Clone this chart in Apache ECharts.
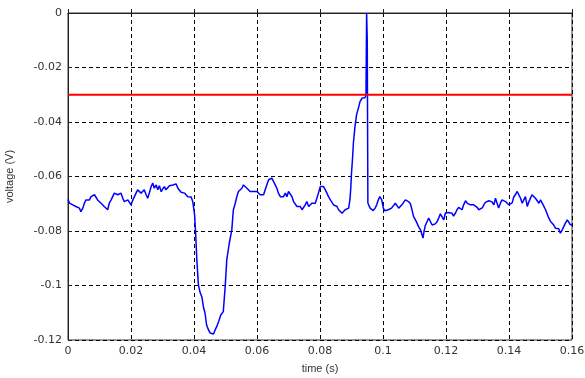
<!DOCTYPE html>
<html>
<head>
<meta charset="utf-8">
<script src="https://cdn.jsdelivr.net/npm/echarts@6/dist/echarts.min.js"></script>
<style>
  html, body { margin: 0; padding: 0; background: #fff; }
  #chart { width: 585px; height: 378px; }
</style>
</head>
<body>
<div id="chart"></div>
<script>
// Sample times (s) of the recorded trace
const timeS = [
  0.0000, 0.0005, 0.0010, 0.0015, 0.0020, 0.0025, 0.0031, 0.0036, 0.0041, 0.0047,
  0.0052, 0.0057, 0.0063, 0.0068, 0.0073, 0.0078, 0.0084, 0.0089, 0.0094, 0.0099,
  0.0105, 0.0110, 0.0115, 0.0121, 0.0126, 0.0131, 0.0137, 0.0142, 0.0147, 0.0153,
  0.0158, 0.0163, 0.0168, 0.0174, 0.0179, 0.0184, 0.0190, 0.0195, 0.0200, 0.0206,
  0.0211, 0.0216, 0.0221, 0.0227, 0.0232, 0.0237, 0.0242, 0.0248, 0.0253, 0.0258,
  0.0264, 0.0269, 0.0274, 0.0280, 0.0285, 0.0290, 0.0296, 0.0301, 0.0306, 0.0311,
  0.0317, 0.0322, 0.0327, 0.0333, 0.0338, 0.0343, 0.0349, 0.0354, 0.0359, 0.0364,
  0.0370, 0.0375, 0.0380, 0.0385, 0.0391, 0.0396,
  // dip
  0.0402, 0.0405, 0.0409, 0.0414, 0.0419, 0.0425, 0.0430, 0.0435, 0.0440, 0.0446,
  0.0451, 0.0456, 0.0462, 0.0467, 0.0472, 0.0478, 0.0485, 0.0493, 0.0499, 0.0504,
  0.0512, 0.0520, 0.0525, 0.0531, 0.0536, 0.0541, 0.0547,
  // recovery
  0.0552, 0.0557, 0.0562, 0.0568, 0.0573, 0.0578, 0.0584, 0.0589, 0.0594, 0.0600,
  0.0605, 0.0610, 0.0616, 0.0621, 0.0626, 0.0631, 0.0637, 0.0642, 0.0647, 0.0652,
  0.0658, 0.0663, 0.0668, 0.0674, 0.0679, 0.0684, 0.0690, 0.0695, 0.0700, 0.0705,
  0.0711, 0.0716, 0.0721, 0.0727, 0.0732, 0.0737, 0.0743, 0.0748, 0.0753, 0.0758,
  0.0764, 0.0769, 0.0774, 0.0779, 0.0785, 0.0790, 0.0795, 0.0801, 0.0806,
  // rise and spike
  0.0811, 0.0817, 0.0822, 0.0827, 0.0833, 0.0838, 0.0843, 0.0848, 0.0854, 0.0859,
  0.0864, 0.0870, 0.0875, 0.0880, 0.0886, 0.0891, 0.0895, 0.0898, 0.0900, 0.0903,
  0.0906, 0.0909, 0.0911, 0.0914, 0.0916, 0.0919, 0.0922, 0.0925, 0.0927, 0.0930,
  0.0934, 0.0943, 0.0946, 0.0948, 0.0950, 0.0951, 0.0952, 0.0959, 0.0964, 0.0969,
  0.0975, 0.0980, 0.0985, 0.0990, 0.0994, 0.0996, 0.1001, 0.1006, 0.1011, 0.1017,
  0.1022, 0.1027, 0.1033, 0.1039, 0.1044, 0.1050, 0.1055,
  // tail
  0.1060, 0.1066, 0.1071, 0.1076, 0.1081, 0.1087, 0.1092, 0.1097, 0.1103, 0.1108,
  0.1113, 0.1119, 0.1124, 0.1127, 0.1130, 0.1134, 0.1140, 0.1145, 0.1150, 0.1156,
  0.1161, 0.1166, 0.1172, 0.1177, 0.1182, 0.1187, 0.1193, 0.1198, 0.1203, 0.1208,
  0.1214, 0.1219, 0.1224, 0.1230, 0.1235, 0.1240, 0.1246, 0.1251, 0.1256, 0.1262,
  0.1267, 0.1272, 0.1277, 0.1283, 0.1288, 0.1293, 0.1299, 0.1304, 0.1309, 0.1315,
  0.1320, 0.1325, 0.1330, 0.1336, 0.1341, 0.1346, 0.1352, 0.1357, 0.1362, 0.1367,
  0.1373, 0.1378, 0.1383, 0.1389, 0.1394, 0.1399, 0.1405, 0.1410, 0.1415, 0.1420,
  0.1426, 0.1431, 0.1436, 0.1442, 0.1447, 0.1452, 0.1458, 0.1463, 0.1468, 0.1473,
  0.1479, 0.1484, 0.1489, 0.1495, 0.1500, 0.1505, 0.1510, 0.1516, 0.1521, 0.1526,
  0.1532, 0.1537, 0.1542, 0.1548, 0.1553, 0.1558, 0.1563, 0.1569, 0.1574, 0.1579,
  0.1585, 0.1590, 0.1595, 0.1600
];

// Measured voltage (V) at each sample time
const voltageV = [
  -0.0684, -0.0698, -0.0692, -0.0704, -0.0698, -0.0710, -0.0704, -0.0716, -0.0729, -0.0716,
  -0.0698, -0.0686, -0.0680, -0.0686, -0.0674, -0.0667, -0.0667, -0.0674, -0.0686, -0.0692,
  -0.0698, -0.0704, -0.0710, -0.0716, -0.0722, -0.0698, -0.0686, -0.0680, -0.0661, -0.0655,
  -0.0667, -0.0674, -0.0661, -0.0680, -0.0692, -0.0698, -0.0686, -0.0686, -0.0704, -0.0686,
  -0.0680, -0.0661, -0.0649, -0.0643, -0.0661, -0.0655, -0.0649, -0.0667, -0.0680, -0.0661,
  -0.0637, -0.0624, -0.0643, -0.0631, -0.0649, -0.0634, -0.0656, -0.0645, -0.0637, -0.0649,
  -0.0643, -0.0634, -0.0640, -0.0631, -0.0624, -0.0627, -0.0643, -0.0649, -0.0658, -0.0655,
  -0.0661, -0.0667, -0.0674, -0.0680, -0.0675, -0.0692,
  -0.0741, -0.0803, -0.0906, -0.0998, -0.1024, -0.1042, -0.1079, -0.1101, -0.1145, -0.1163,
  -0.1174, -0.1170, -0.1178, -0.1163, -0.1151, -0.1133, -0.1108, -0.1096, -0.1004, -0.0906,
  -0.0845, -0.0796, -0.0722, -0.0698, -0.0674, -0.0655, -0.0649,
  -0.0643, -0.0631, -0.0631, -0.0643, -0.0643, -0.0655, -0.0655, -0.0655, -0.0649, -0.0655,
  -0.0661, -0.0667, -0.0661, -0.0667, -0.0649, -0.0631, -0.0612, -0.0606, -0.0606, -0.0612,
  -0.0631, -0.0643, -0.0661, -0.0674, -0.0667, -0.0674, -0.0661, -0.0674, -0.0655, -0.0661,
  -0.0674, -0.0692, -0.0698, -0.0710, -0.0716, -0.0710, -0.0722, -0.0729, -0.0704, -0.0692,
  -0.0710, -0.0704, -0.0698, -0.0692, -0.0698, -0.0680, -0.0661, -0.0637, -0.0631,
  -0.0637, -0.0649, -0.0661, -0.0674, -0.0686, -0.0692, -0.0704, -0.0698, -0.0710, -0.0722,
  -0.0729, -0.0735, -0.0729, -0.0722, -0.0722, -0.0716, -0.0686, -0.0637, -0.0588, -0.0539,
  -0.0478, -0.0441, -0.0417, -0.0392, -0.0374, -0.0361, -0.0349, -0.0343, -0.0325, -0.0318,
  -0.0312, -0.0311, -0.0300, 0.0000, -0.0098, -0.0100, -0.0697, -0.0716, -0.0722, -0.0725,
  -0.0716, -0.0704, -0.0686, -0.0674, -0.0667, -0.0686, -0.0716, -0.0726, -0.0729, -0.0722,
  -0.0719, -0.0716, -0.0710, -0.0698, -0.0704, -0.0716, -0.0722,
  -0.0704, -0.0698, -0.0686, -0.0692, -0.0692, -0.0700, -0.0722, -0.0747, -0.0759, -0.0771,
  -0.0784, -0.0796, -0.0802, -0.0826, -0.0803, -0.0781, -0.0765, -0.0753, -0.0756, -0.0778,
  -0.0785, -0.0774, -0.0765, -0.0752, -0.0737, -0.0735, -0.0759, -0.0734, -0.0737, -0.0732,
  -0.0737, -0.0735, -0.0745, -0.0734, -0.0722, -0.0713, -0.0719, -0.0722, -0.0704, -0.0689,
  -0.0698, -0.0695, -0.0704, -0.0698, -0.0704, -0.0710, -0.0713, -0.0722, -0.0726, -0.0715,
  -0.0704, -0.0695, -0.0698, -0.0689, -0.0686, -0.0693, -0.0704, -0.0680, -0.0697, -0.0716,
  -0.0697, -0.0686, -0.0692, -0.0692, -0.0698, -0.0704, -0.0711, -0.0697, -0.0675, -0.0667,
  -0.0655, -0.0658, -0.0678, -0.0698, -0.0686, -0.0674, -0.0710, -0.0693, -0.0686, -0.0667,
  -0.0667, -0.0680, -0.0686, -0.0698, -0.0686, -0.0697, -0.0708, -0.0722, -0.0737, -0.0752,
  -0.0765, -0.0765, -0.0778, -0.0790, -0.0796, -0.0792, -0.0808, -0.0796, -0.0790, -0.0771,
  -0.0759, -0.0766, -0.0777, -0.0777
];

// Trigger threshold (V)
const thresholdV = -0.03;
const thresholdSpan = [0, 0.16];

// Axis ranges and tick spacing
const xRange = [0, 0.16];
const xStep = 0.02;
const yRange = [-0.12, 0];
const yStep = 0.02;

const trace = timeS.map((t, i) => [t, voltageV[i]]);
const thresholdLine = thresholdSpan.map(t => [t, thresholdV]);

const chart = echarts.init(document.getElementById('chart'), null, { renderer: 'canvas' });

const labelStyle = { color: '#333', fontSize: 11, fontFamily: 'DejaVu Sans, Arial, sans-serif' };
const nameStyle = { color: '#333', fontSize: 11, fontFamily: 'Liberation Sans, Arial, sans-serif' };
const gridDash = { color: '#000', width: 1, type: [4, 3] };

chart.setOption({
  animation: false,
  backgroundColor: '#fff',
  grid: {
    left: 68, right: 13, top: 13, bottom: 38,
    outerBoundsMode: 'none',
    containLabel: false,
    show: true, borderColor: '#333', borderWidth: 1, backgroundColor: 'transparent'
  },
  xAxis: {
    type: 'value',
    min: xRange[0], max: xRange[1], interval: xStep,
    name: 'time (s)', nameLocation: 'middle', nameGap: 23,
    nameTextStyle: nameStyle,
    axisLine: { show: true, lineStyle: { color: '#222', width: 1 } },
    axisTick: { show: true, inside: true, length: 4, lineStyle: { color: '#222' } },
    axisLabel: Object.assign({ margin: 6 }, labelStyle),
    splitLine: { show: true, lineStyle: gridDash }
  },
  yAxis: {
    type: 'value',
    min: yRange[0], max: yRange[1], interval: yStep,
    name: 'voltage (V)', nameLocation: 'middle', nameGap: 53,
    nameTextStyle: nameStyle,
    axisLine: { show: true, lineStyle: { color: '#222', width: 1 } },
    axisTick: { show: true, inside: true, length: 4, lineStyle: { color: '#222' } },
    axisLabel: Object.assign({ margin: 6 }, labelStyle),
    splitLine: { show: true, lineStyle: gridDash }
  },
  series: [
    {
      type: 'line',
      data: trace,
      showSymbol: false,
      clip: true,
      lineStyle: { color: '#0000ff', width: 1.5 },
      z: 3
    },
    {
      type: 'line',
      data: thresholdLine,
      showSymbol: false,
      lineStyle: { color: '#ff0000', width: 2.2 },
      z: 4
    }
  ]
});
</script>
</body>
</html>
